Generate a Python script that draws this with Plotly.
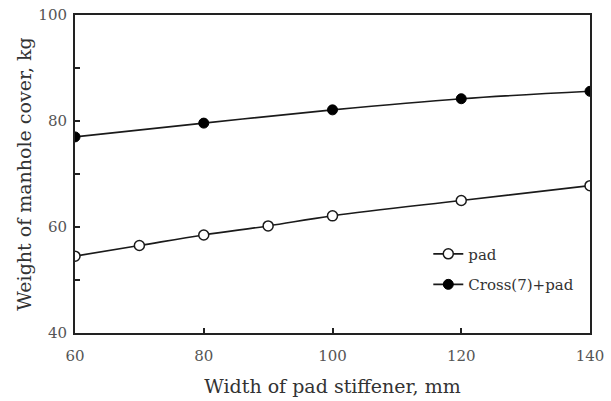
import plotly.graph_objects as go

pad_x = [60, 70, 80, 90, 100, 120, 140]
pad_y = [54.5, 56.5, 58.5, 60.2, 62.1, 65.0, 67.8]
cross_x = [60, 80, 100, 120, 140]
cross_y = [77.0, 79.6, 82.1, 84.2, 85.6]

font_family = "DejaVu Serif"

fig = go.Figure()
fig.add_trace(go.Scatter(
    x=pad_x, y=pad_y, mode="lines+markers", name="pad", legendgroup="a",
    line=dict(color="#1a1a1a", width=1.6, shape="spline"),
    marker=dict(symbol="circle", size=10, color="white", line=dict(color="#1a1a1a", width=1.5)),
))
fig.add_trace(go.Scatter(
    x=cross_x, y=cross_y, mode="lines+markers", name="Cross(7)+pad", legendgroup="b",
    line=dict(color="#1a1a1a", width=1.6, shape="spline"),
    marker=dict(symbol="circle", size=10, color="black", line=dict(color="black", width=1)),
))

fig.update_layout(
    width=611, height=401,
    margin=dict(l=75, r=21, t=15, b=68),
    plot_bgcolor="white", paper_bgcolor="white",
    font=dict(family=font_family, color="#444", size=14),
    showlegend=True,
    legend=dict(x=0.686, y=0.30, xanchor="left", yanchor="top",
                bgcolor="rgba(0,0,0,0)", font=dict(size=15, color="#333"),
                tracegroupgap=8, itemwidth=30),
    xaxis=dict(
        range=[60, 140], tickvals=[60, 80, 100, 120, 140],
        ticks="inside", ticklen=5, tickwidth=1.5, tickcolor="#222",
        showline=True, linecolor="#222", linewidth=2, mirror=True,
        showgrid=False, zeroline=False, automargin=False,
        ticklabelstandoff=8,
        title=dict(text="Width of pad stiffener, mm", font=dict(size=19, color="#333"), standoff=16),
        tickfont=dict(size=15, color="#555"),
    ),
    yaxis=dict(
        range=[40, 100], tickvals=[40, 60, 80, 100],
        ticks="inside", ticklen=5, tickwidth=1.5, tickcolor="#222",
        minor=dict(tickvals=[50, 70, 90], ticks="inside", ticklen=5, tickwidth=1.5, tickcolor="#222"),
        showline=True, linecolor="#222", linewidth=2, mirror=True,
        showgrid=False, zeroline=False, automargin=False,
        ticklabelstandoff=3,
        title=dict(text="Weight of manhole cover, kg", font=dict(size=19, color="#333"), standoff=2),
        tickfont=dict(size=15, color="#555"),
    ),
)

fig.write_html("out.html", config={"displayModeBar": False},
               post_script="document.body.style.margin='0';")
